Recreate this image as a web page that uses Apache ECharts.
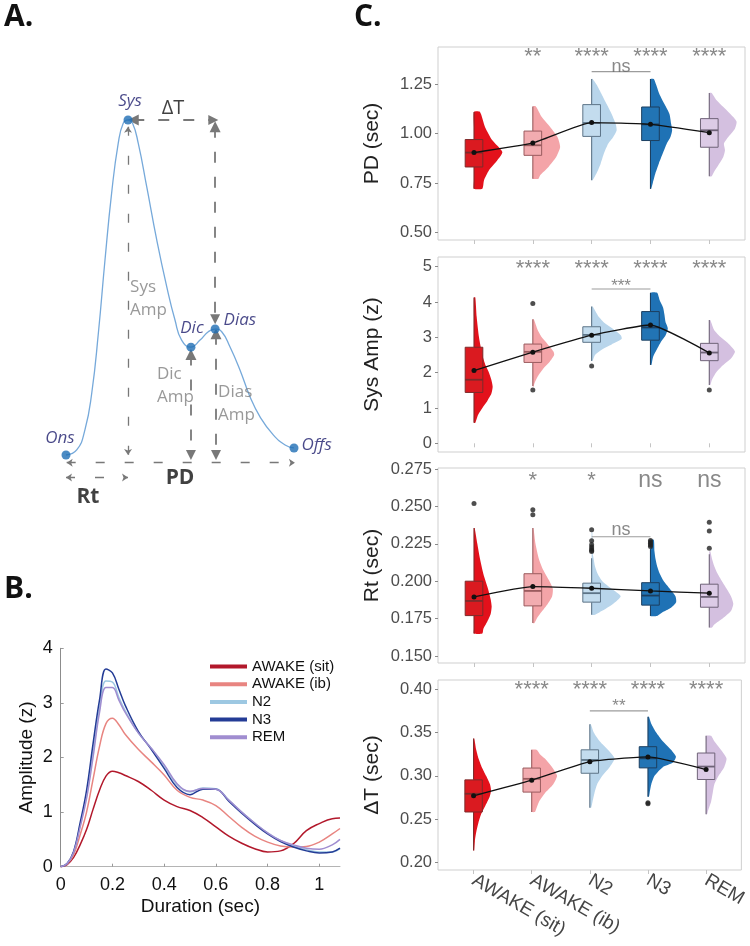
<!DOCTYPE html>
<html><head><meta charset="utf-8">
<script src="https://cdn.jsdelivr.net/npm/echarts@6/dist/echarts.min.js"></script>
<style>html,body{margin:0;padding:0;background:#fff}#c{width:750px;height:946px}</style>
</head><body><div id="c"></div><script>
// ================= DATA =================
// Panel A: schematic pulse (normalised time, normalised amplitude)
const pulseT   = [0,0.047,0.083,0.113,0.142,0.171,0.200,0.229,0.251,0.272,0.292,0.317,0.354,0.398,0.442,0.478,0.507,0.548,0.588,0.624,0.654,0.683,0.719,0.763,0.807,0.851,0.909,0.961,1.0];
const pulseAmp = [0,0.015,0.075,0.185,0.364,0.582,0.781,0.930,0.990,1.0,0.990,0.930,0.801,0.642,0.502,0.403,0.343,0.322,0.343,0.368,0.376,0.368,0.323,0.254,0.174,0.114,0.060,0.030,0.021];
const fiducialNames = ['Ons','Sys','Dic','Dias','Offs'];
const fiducialT   = [0, 0.272, 0.548, 0.654, 1.0];
const fiducialAmp = [0, 1.0, 0.322, 0.376, 0.021];

// Panel B: average pulse waveforms
const durationSec = [0,0.025,0.05,0.075,0.1,0.125,0.15,0.175,0.2,0.225,0.25,0.3,0.35,0.4,0.45,0.5,0.55,0.6,0.65,0.7,0.75,0.8,0.85,0.9,0.95,1.0,1.05,1.08];
const ampAwakeSit = [0,0.04,0.17,0.4,0.68,1.05,1.4,1.66,1.75,1.72,1.67,1.56,1.4,1.22,1.1,1.03,0.9,0.73,0.56,0.43,0.33,0.27,0.29,0.42,0.66,0.79,0.88,0.89];
const ampAwakeIb  = [0,0.05,0.22,0.58,1.0,1.6,2.2,2.62,2.72,2.6,2.42,2.15,1.92,1.68,1.4,1.27,1.22,1.12,0.92,0.72,0.56,0.45,0.38,0.36,0.37,0.45,0.6,0.7];
const ampN2       = [0,0.06,0.27,0.75,1.3,2.1,2.9,3.4,3.38,3.1,2.85,2.45,2.17,1.85,1.5,1.37,1.44,1.43,1.22,1.0,0.8,0.62,0.48,0.38,0.31,0.27,0.27,0.33];
const ampN3       = [0,0.06,0.28,0.8,1.4,2.25,3.05,3.62,3.55,3.25,2.95,2.48,2.15,1.8,1.45,1.32,1.42,1.42,1.2,0.98,0.78,0.6,0.46,0.36,0.29,0.25,0.27,0.34];
const ampREM      = [0,0.06,0.26,0.72,1.25,2.0,2.82,3.28,3.28,3.05,2.82,2.45,2.17,1.87,1.52,1.38,1.43,1.42,1.22,1.0,0.8,0.62,0.48,0.4,0.34,0.32,0.4,0.5];

// Panel C
const stages = ['AWAKE (sit)','AWAKE (ib)','N2','N3','REM'];
// box: [lower whisker, q1, median, q3, upper whisker]
const pdBox  = [[0.721,0.831,0.904,0.970,1.110],[0.772,0.890,0.941,1.013,1.138],[0.764,0.986,1.054,1.147,1.277],[0.720,0.965,1.047,1.135,1.277],[0.784,0.931,1.017,1.076,1.206]];
const pdMean = [0.904,0.953,1.056,1.047,1.005];
const pdOutliers = [];
const pdViolin = [
  [[1.11,18],[1.034,33],[0.966,55],[0.907,85],[0.865,70],[0.814,45],[0.763,30],[0.721,25]],
  [[1.138,9],[1.084,27],[1.034,52],[0.983,74],[0.932,82],[0.881,70],[0.831,47],[0.789,22],[0.772,17]],
  [[1.277,3],[1.248,15],[1.2,30],[1.15,45],[1.10,60],[1.05,72],[1.017,75],[0.983,65],[0.95,50],[0.90,37],[0.848,27],[0.80,15],[0.764,3]],
  [[1.277,10],[1.248,17],[1.2,27],[1.15,42],[1.10,57],[1.05,62],[1.017,65],[0.983,60],[0.95,49],[0.90,37],[0.848,25],[0.80,15],[0.75,7],[0.72,2]],
  [[1.206,7],[1.169,22],[1.127,47],[1.084,72],[1.06,82],[1.025,77],[0.983,57],[0.95,44],[0.916,47],[0.882,42],[0.84,27],[0.806,14],[0.784,7]]
];
const pdSig = ['','**','****','****','****'];
const pdPairSig = 'ns';
const pdTicks = [0.5,0.75,1.0,1.25];

const sysBox  = [[0.58,1.44,1.80,2.72,4.13],[1.62,2.29,2.59,2.81,3.51],[2.33,2.86,3.07,3.30,3.87],[2.22,2.92,3.28,3.73,4.26],[1.65,2.34,2.57,2.83,3.49]];
const sysMean = [2.06,2.58,3.06,3.35,2.56];
const sysOutliers = [[2,3.96],[2,1.51],[3,2.19],[5,1.51]];
const sysViolin = [
  [[4.13,4],[3.58,8],[3.0,15],[2.5,25],[2.2,35],[2.0,45],[1.8,52],[1.6,56],[1.4,52],[1.2,40],[1.0,25],[0.8,12],[0.58,4]],
  [[3.51,3],[3.2,15],[3.0,27],[2.8,45],[2.6,62],[2.5,64],[2.3,50],[2.1,30],[1.9,15],[1.7,5],[1.6,2]],
  [[3.87,3],[3.6,20],[3.4,40],[3.2,70],[3.05,88],[2.95,90],[2.8,60],[2.65,30],[2.5,10],[2.34,3]],
  [[4.26,20],[4.04,28],[3.84,38],[3.64,42],[3.44,45],[3.25,52],[3.05,45],[2.85,30],[2.64,18],[2.45,8],[2.22,3]],
  [[3.49,3],[3.2,15],[3.0,35],[2.8,60],[2.6,77],[2.4,65],[2.2,40],[2.0,20],[1.8,8],[1.65,3]]
];
const sysSig = ['','****','****','****','****'];
const sysPairSig = '***';
const sysTicks = [0,1,2,3,4,5];

const rtBox  = [[0.165,0.177,0.1868,0.200,0.2355],[0.172,0.1835,0.1935,0.205,0.2355],[0.1775,0.186,0.192,0.1987,0.2154],[0.1768,0.184,0.1904,0.199,0.2215],[0.169,0.1826,0.1895,0.198,0.218]];
const rtMean = [0.1895,0.1964,0.1953,0.1935,0.192];
const rtOutliers = [[1,0.252],[2,0.2478],[2,0.2444],[3,0.2344],[3,0.227],[3,0.2243],[3,0.2228],[3,0.2215],[3,0.2205],[3,0.2199],[4,0.2272],[4,0.2262],[4,0.2252],[4,0.2242],[4,0.2232],[5,0.2395],[5,0.2335],[5,0.222]];
const rtViolin = [
  [[0.2355,2],[0.225,10],[0.215,18],[0.205,28],[0.195,42],[0.188,50],[0.183,53],[0.178,50],[0.173,40],[0.168,28],[0.165,25]],
  [[0.2355,2],[0.225,8],[0.215,18],[0.208,30],[0.200,50],[0.195,60],[0.190,58],[0.185,45],[0.180,28],[0.175,12],[0.172,5]],
  [[0.233,2],[0.2188,3],[0.215,6],[0.210,10],[0.205,18],[0.200,32],[0.195,60],[0.190,87],[0.185,65],[0.180,30],[0.1775,10]],
  [[0.2277,10],[0.220,12],[0.215,15],[0.210,20],[0.205,28],[0.200,40],[0.195,58],[0.190,75],[0.186,77],[0.182,60],[0.179,35],[0.1768,20]],
  [[0.220,3],[0.215,8],[0.210,15],[0.205,25],[0.200,38],[0.195,52],[0.190,65],[0.185,72],[0.180,65],[0.175,40],[0.171,15],[0.169,8]]
];
const rtSig = ['','*','*','ns','ns'];
const rtPairSig = 'ns';
const rtTicks = [0.150,0.175,0.200,0.225,0.250,0.275];

const dtBox  = [[0.214,0.2584,0.2794,0.2954,0.343],[0.2584,0.2813,0.2966,0.309,0.330],[0.2634,0.303,0.3183,0.330,0.3595],[0.276,0.3092,0.3202,0.3336,0.368],[0.2557,0.2958,0.3107,0.3263,0.3462]];
const dtMean = [0.277,0.295,0.3164,0.3218,0.3073];
const dtOutliers = [[4,0.2690],[4,0.2680]];
const dtViolin = [
  [[0.343,2],[0.33,8],[0.32,15],[0.31,25],[0.30,38],[0.29,50],[0.283,53],[0.275,48],[0.265,35],[0.255,22],[0.245,14],[0.235,8],[0.225,4],[0.214,2]],
  [[0.33,15],[0.325,25],[0.32,40],[0.31,62],[0.30,77],[0.29,65],[0.28,40],[0.27,22],[0.26,12],[0.2584,10]],
  [[0.3595,3],[0.35,12],[0.34,30],[0.33,55],[0.32,75],[0.31,60],[0.30,38],[0.29,22],[0.28,14],[0.27,8],[0.2634,4]],
  [[0.368,3],[0.36,10],[0.35,25],[0.34,45],[0.33,70],[0.322,85],[0.315,75],[0.31,45],[0.30,20],[0.29,10],[0.28,5],[0.276,3]],
  [[0.3462,15],[0.34,25],[0.33,45],[0.32,62],[0.31,55],[0.30,38],[0.29,25],[0.28,20],[0.27,15],[0.26,6],[0.2557,3]]
];
const dtSig = ['','****','****','****','****'];
const dtPairSig = '**';
const dtTicks = [0.20,0.25,0.30,0.35,0.40];

// ================= STYLE / LAYOUT =================
const FONT = 'Liberation Sans, Arial, sans-serif';
const FONT_A = 'Open Sans, Liberation Sans, sans-serif';
const stageColor = ['#e3111b','#f4a4a8','#b8d5eb','#1f72b5','#d4c0e0'];
const boxFill    = ['#da1a20','#f2acb0','#c3dcee','#2274b4','#dccbe6'];
const boxBorder  = ['#7d2b2b','#9a5b5e','#5d7487','#1c3f60','#6f6378'];
const curveColors = ['#b2182b','#e88581','#9dc8e2','#243c96','#a08dd0'];
const VIOLIN_SCALE = 1/176.5;
const BOX_HALF = 0.15;
const navy = '#1b1b6b', greyTxt = '#808080', arrowGrey = '#787878';

const panels = [
  {name:'PD (sec)', box:pdBox, mean:pdMean, out:pdOutliers, violin:pdViolin, sig:pdSig, pair:pdPairSig, ticks:pdTicks, dec:2,
   top:47, height:193, ymin:0.461, ymax:1.439, sigY:1.388, pairLine:1.314, pairText:1.338},
  {name:'Sys Amp (z)', box:sysBox, mean:sysMean, out:sysOutliers, violin:sysViolin, sig:sysSig, pair:sysPairSig, ticks:sysTicks, dec:0,
   top:257, height:195, ymin:-0.246, ymax:5.275, sigY:4.925, pairLine:4.367, pairText:4.441},
  {name:'Rt (sec)', box:rtBox, mean:rtMean, out:rtOutliers, violin:rtViolin, sig:rtSig, pair:rtPairSig, ticks:rtTicks, dec:3,
   top:468, height:195, ymin:0.1453, ymax:0.2757, sigY:0.267, pairLine:0.2297, pairText:0.234},
  {name:'\u0394T (sec)', box:dtBox, mean:dtMean, out:dtOutliers, violin:dtViolin, sig:dtSig, pair:dtPairSig, ticks:dtTicks, dec:2,
   top:680, height:190, ymin:0.1916, ymax:0.4104, sigY:0.3985, pairLine:0.3749, pairText:0.3805}
];

const grids = [
  {left:20.4, top:69.75, width:342, height:435.5},          // A
  {left:60.7, top:648.3, width:279.3, height:218.4}          // B
];
const xAxes = [
  {gridIndex:0, type:'value', min:-0.2, max:1.3, show:false},
  {gridIndex:1, type:'value', min:0, max:1.08, interval:0.2,
   axisLine:{show:true, lineStyle:{color:'#b4b4b4', width:1}},
   axisTick:{show:true, inside:true, length:3, lineStyle:{color:'#9a9a9a'}, customValues:[0,0.2,0.4,0.6,0.8,1.0]},
   axisLabel:{customValues:[0,0.2,0.4,0.6,0.8,1.0], formatter:v=>String(+v.toFixed(1)), color:'#111', fontSize:18, fontFamily:FONT, margin:9},
   splitLine:{show:false},
   name:'Duration (sec)', nameLocation:'middle', nameGap:31, nameTextStyle:{fontSize:19, color:'#111', fontFamily:FONT}}
];
const yAxes = [
  {gridIndex:0, type:'value', min:-0.15, max:1.15, show:false},
  {gridIndex:1, type:'value', min:0, max:4, interval:1,
   axisLine:{show:true, lineStyle:{color:'#8c8c8c', width:1}},
   axisTick:{show:true, inside:true, length:3, lineStyle:{color:'#9a9a9a'}},
   axisLabel:{color:'#111', fontSize:18, fontFamily:FONT, margin:8},
   splitLine:{show:false},
   name:'Amplitude (z)', nameLocation:'middle', nameGap:24, nameTextStyle:{fontSize:19, color:'#111', fontFamily:FONT}}
];

const series = [];

// ---------- Panel A ----------
series.push({type:'line', xAxisIndex:0, yAxisIndex:0, smooth:0.5, symbol:'none', silent:true,
  data: pulseT.map((t,i)=>[t, pulseAmp[i]]), lineStyle:{color:'#76a9da', width:1.3}, z:3});

const labelPos = {
  Ons:{position:'top', distance:4, offset:[-6,0]},
  Sys:{position:'top', distance:6, offset:[2,0]},
  Dic:{position:'top', distance:6, offset:[1,0]},
  Dias:{position:'right', distance:4, offset:[0,-9]},
  Offs:{position:'right', distance:3, offset:[0,-3]}
};
series.push({type:'scatter', xAxisIndex:0, yAxisIndex:0, symbolSize:9, silent:true, z:5,
  itemStyle:{color:'#1f6eb4'},
  data: fiducialNames.map((n,i)=>({value:[fiducialT[i], fiducialAmp[i]], name:n,
     label:Object.assign({show:true, formatter:'{b}', color:navy, fontStyle:'italic', fontSize:17, fontFamily:FONT_A}, labelPos[n])}))
});

// arrows (schematic annotation, data coords)
const smallArrows = [
  [[fiducialT[1],0.98],[fiducialT[1],0]],        // Sys Amp
  [[0.003,-0.023],[1.004,-0.023]],                 // PD
  [[0.0,-0.067],[fiducialT[1],-0.067]]             // Rt
];
const bigArrows = [
  [[0.295,1.0],[0.646,1.0]],                       // ΔT horizontal
  [[fiducialT[3],0.98],[fiducialT[3],0.405]],      // ΔT vertical
  [[fiducialT[2],0.300],[fiducialT[2],0]],         // Dic Amp
  [[0.658,0.362],[0.658,0]]                        // Dias Amp
];
series.push({type:'lines', coordinateSystem:'cartesian2d', xAxisIndex:0, yAxisIndex:0, silent:true, z:2,
  symbol:['arrow','arrow'], symbolSize:6,
  lineStyle:{color:arrowGrey, width:1.3, type:[9,20], opacity:1},
  data: smallArrows.map(c=>({coords:c}))});
series.push({type:'lines', coordinateSystem:'cartesian2d', xAxisIndex:0, yAxisIndex:0, silent:true, z:2,
  symbol:['triangle','triangle'], symbolSize:[11,10],
  lineStyle:{color:arrowGrey, width:1.8, type:[11,14], opacity:1},
  data: bigArrows.map(c=>({coords:c}))});

const annoText = ['\u0394T','Sys\nAmp','Dic\nAmp','Dias\nAmp','PD','Rt'];
const annoPos  = [[0.469,1.036],[0.281,0.467],[0.399,0.206],[0.667,0.152],[0.5,-0.069],[0.096,-0.125]];
const annoStyle = [
  {color:'#111', fontSize:20, align:'center'},
  {color:greyTxt, fontSize:17, align:'left', lineHeight:23},
  {color:greyTxt, fontSize:17, align:'left', lineHeight:23},
  {color:greyTxt, fontSize:17, align:'left', lineHeight:23},
  {color:'#111', fontSize:21, fontWeight:'bold', align:'center'},
  {color:'#111', fontSize:21, fontWeight:'bold', align:'center'}
];
series.push({type:'scatter', xAxisIndex:0, yAxisIndex:0, symbolSize:0, silent:true, z:6,
  data: annoText.map((t,i)=>({value:annoPos[i], name:t,
    label:Object.assign({show:true, position:'inside', formatter:'{b}', fontFamily:FONT_A, verticalAlign:'middle'}, annoStyle[i])}))});

// ---------- Panel B ----------
const bData = [ampAwakeSit, ampAwakeIb, ampN2, ampN3, ampREM];
bData.forEach((arr,k)=>{
  series.push({type:'line', name:stages[k], xAxisIndex:1, yAxisIndex:1, smooth:0.4, symbol:'none', silent:true,
    data: durationSec.map((t,i)=>[t, arr[i]]), lineStyle:{color:curveColors[k], width:1.5}, itemStyle:{color:curveColors[k]}, z:2+k});
});

// ---------- Panel C ----------
function violinItem(profiles){
  return function(params, api){
    const i = params.dataIndex, x0 = api.value(0), prof = profiles[i];
    const pts = [];
    prof.forEach(p=>pts.push(api.coord([x0 + p[1]*VIOLIN_SCALE, p[0]])));
    for (let k=prof.length-1;k>=0;k--) pts.push(api.coord([x0, prof[k][0]]));
    return {type:'polygon', shape:{points:pts, smooth:0.2}, style:{fill:stageColor[i]}};
  };
}
function boxItem(boxes){
  return function(params, api){
    const i = params.dataIndex, x0 = api.value(0);
    const [mn,q1,md,q3,mx] = boxes[i];
    const a = api.coord([x0-BOX_HALF, q3]), b = api.coord([x0+BOX_HALF, q1]);
    const pMx = api.coord([x0,mx]), pQ3 = api.coord([x0,q3]), pQ1 = api.coord([x0,q1]), pMn = api.coord([x0,mn]);
    const mL = api.coord([x0-BOX_HALF, md]), mR = api.coord([x0+BOX_HALF, md]);
    const ws = {stroke:boxBorder[i], lineWidth:1.1};
    return {type:'group', children:[
      {type:'line', shape:{x1:pMx[0],y1:pMx[1],x2:pQ3[0],y2:pQ3[1]}, style:ws},
      {type:'line', shape:{x1:pQ1[0],y1:pQ1[1],x2:pMn[0],y2:pMn[1]}, style:ws},
      {type:'rect', shape:{x:a[0], y:a[1], width:b[0]-a[0], height:b[1]-a[1]}, style:{fill:boxFill[i], stroke:boxBorder[i], lineWidth:1}},
      {type:'line', shape:{x1:mL[0],y1:mL[1],x2:mR[0],y2:mR[1]}, style:{stroke:boxBorder[i], lineWidth:1.8}}
    ]};
  };
}

panels.forEach((p, j)=>{
  const gi = 2 + j;
  const last = j === panels.length-1;
  grids.push({left:438, top:p.top, width:307, height:p.height, show:true, borderColor:'#cfcfcf', borderWidth:1, backgroundColor:'#fff'});
  xAxes.push({gridIndex:gi, type:'value', min:0.388, max:5.607,
    axisLine:{show:false},
    axisTick:{show:true, length:4, customValues:[1,2,3,4,5], lineStyle:{color:'#c4c4c4'}},
    axisLabel:{show:last, customValues:[1,2,3,4,5], formatter:v=>stages[Math.round(v)-1], rotate:-30, margin:9,
      fontSize:19, color:'#454545', fontFamily:FONT},
    splitLine:{show:false}});
  yAxes.push({gridIndex:gi, type:'value', min:p.ymin, max:p.ymax,
    axisLine:{show:false},
    axisTick:{show:true, length:3, customValues:p.ticks, lineStyle:{color:'#8a8a8a'}},
    axisLabel:{customValues:p.ticks, formatter:v=>(+v).toFixed(p.dec), fontSize:16.5, color:'#4d4d4d', fontFamily:FONT, margin:6},
    splitLine:{show:false},
    name:p.name, nameLocation:'middle', nameGap:55, nameTextStyle:{fontSize:21, color:'#222', fontFamily:FONT}});

  series.push({type:'custom', xAxisIndex:gi, yAxisIndex:gi, silent:true, z:1,
    renderItem: violinItem(p.violin), data: p.box.map((b,i)=>[i+1, b[2]]), encode:{x:0, y:1}});
  series.push({type:'custom', xAxisIndex:gi, yAxisIndex:gi, silent:true, z:2,
    renderItem: boxItem(p.box), data: p.box.map((b,i)=>[i+1].concat(b)), encode:{x:0, y:[1,2,3,4,5]}});
  series.push({type:'line', xAxisIndex:gi, yAxisIndex:gi, silent:true, z:4, smooth:0.15,
    symbol:'circle', symbolSize:5, itemStyle:{color:'#111'}, lineStyle:{color:'#111', width:1.3},
    data: p.mean.map((m,i)=>[i+1, m])});
  series.push({type:'scatter', xAxisIndex:gi, yAxisIndex:gi, silent:true, z:4, symbolSize:5,
    itemStyle:{color:'#222'}, data: p.out});
  series.push({type:'line', xAxisIndex:gi, yAxisIndex:gi, silent:true, z:3, symbol:'none',
    lineStyle:{color:'#9c9c9c', width:1.1}, data:[[3,p.pairLine],[4,p.pairLine]]});
  const sigItems = [];
  p.sig.forEach((s,i)=>{
    if(!s) return;
    const fs = s==='ns' ? 23 : 22;
    sigItems.push({value:[i+1, p.sigY], name:s,
      label:{show:true, position:'inside', formatter:'{b}', fontSize:fs, color:'#6a6a6a', fontFamily:FONT, verticalAlign:'middle'}});
  });
  const pfs = p.pair==='ns' ? 18 : 17;
  sigItems.push({value:[3.5, p.pairText], name:p.pair,
    label:{show:true, position:'inside', formatter:'{b}', fontSize:pfs, color:'#6a6a6a', fontFamily:FONT, verticalAlign:'middle'}});
  series.push({type:'scatter', xAxisIndex:gi, yAxisIndex:gi, silent:true, z:5, symbolSize:0, data:sigItems});
});

const chart = echarts.init(document.getElementById('c'), null, {renderer:'canvas', width:750, height:946});
chart.setOption({
  animation:false,
  backgroundColor:'#fff',
  grid:grids, xAxis:xAxes, yAxis:yAxes, series:series,
  legend:{data:stages, orient:'vertical', left:205, top:654, itemWidth:37, itemHeight:4, itemGap:2.7, icon:'rect',
    textStyle:{fontSize:15, color:'#111', fontFamily:FONT}, selectedMode:false},
  graphic:[
    {type:'text', left:4, top:2, style:{text:'A.', font:'bold 30px Open Sans, sans-serif', fill:'#111'}},
    {type:'text', left:4, top:574, style:{text:'B.', font:'bold 30px Open Sans, sans-serif', fill:'#111'}},
    {type:'text', left:354, top:2, style:{text:'C.', font:'bold 30px Open Sans, sans-serif', fill:'#111'}}
  ]
});
</script></body></html>
